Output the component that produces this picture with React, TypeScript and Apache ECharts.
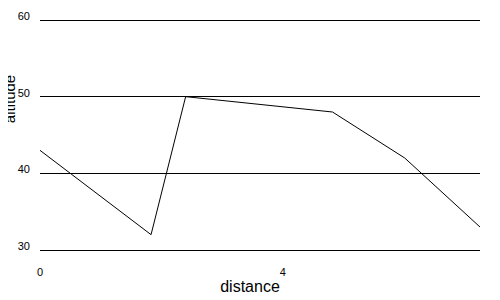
import React, { useEffect, useRef } from "react";
import * as echarts from "echarts";

const distance = [0, 1.83, 2.4, 4.82, 6.01, 7.25];
const altitude = [43, 32, 50, 48, 42, 33];
const yTicks = [30, 40, 50, 60];
const xTicks = [0, 4];
const xName = "distance";
const yName = "altitude";

export default function App() {
  const ref = useRef<HTMLDivElement>(null);
  useEffect(() => {
    if (!ref.current) return;
    const chart = echarts.init(ref.current, null, { renderer: "svg" });
    const font = "Liberation Sans, Arial, sans-serif";
    chart.setOption({
      animation: false,
      backgroundColor: "#fff",
      textStyle: { fontFamily: font },
      grid: { left: 40, right: 20, top: 20, bottom: 50, containLabel: false, outerBoundsMode: "none" },
      graphic: [
        {
          type: "text",
          x: 250,
          y: 286,
          style: { text: xName, fontSize: 16, fill: "#000", fontFamily: font, align: "center", verticalAlign: "middle" },
        },
        {
          type: "text",
          x: 9,
          y: 99,
          rotation: Math.PI / 2,
          style: { text: yName, fontSize: 15, fill: "#000", fontFamily: font, align: "center", verticalAlign: "middle" },
        },
      ],
      xAxis: {
        type: "value",
        min: xTicks[0],
        max: 7.25,
        interval: xTicks[1] - xTicks[0],
        axisLine: { show: false },
        axisTick: { show: false },
        splitLine: { show: false },
        axisLabel: {
          color: "#000",
          fontSize: 11,
          margin: 16,
          formatter: (v: number) => (xTicks.includes(v) ? String(v) : ""),
        },
      },
      yAxis: {
        type: "value",
        min: yTicks[0],
        max: yTicks[yTicks.length - 1],
        interval: 10,
        axisLine: { show: false },
        axisTick: { show: false },
        splitLine: { show: true, lineStyle: { color: "#000", width: 1 } },
        axisLabel: { color: "#000", fontSize: 11, margin: 10, verticalAlign: "bottom", lineHeight: 8 },
      },
      series: [
        {
          type: "line",
          data: distance.map((d, i) => [d, altitude[i]]),
          symbol: "none",
          lineStyle: { color: "#000", width: 1 },
        },
      ],
    });
    return () => chart.dispose();
  }, []);
  return <div ref={ref} style={{ width: 500, height: 300, margin: -8 }} />;
}
